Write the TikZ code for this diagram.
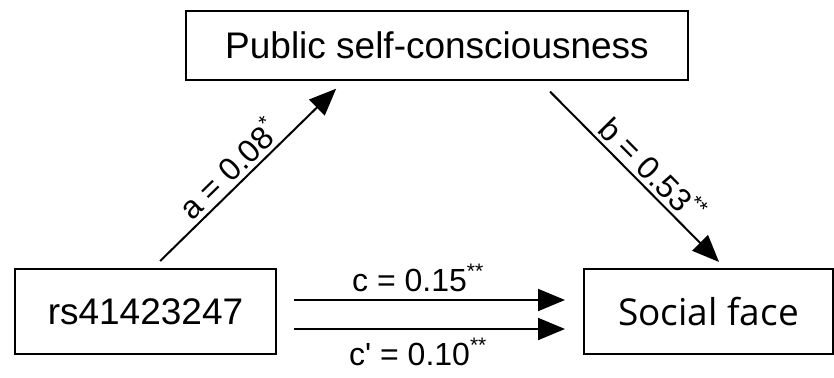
\documentclass[tikz,border=0pt]{standalone}
\usepackage{fontspec}
\setmainfont{Liberation Sans}
\newfontfamily\facefont{Open Sans}
\usetikzlibrary{arrows.meta}

\newcommand{\sig}[1]{\raisebox{13pt}{\fontsize{21}{21}\selectfont #1}}

\tikzset{
    box/.style={draw, line width=2pt, inner sep=0pt, font=\fontsize{37}{40}\selectfont},
    arr/.style={line width=2pt, -{Triangle[length=27pt,width=22pt]}},
    lbl/.style={font=\fontsize{32}{36}\selectfont, inner sep=4pt}
}

\begin{document}
\begin{tikzpicture}[x=1pt, y=-1pt]
    % Fix the page size
    \useasboundingbox (0,0) rectangle (834,377);

    % Draw the three boxes
    \node[box, minimum width=502pt, minimum height=69pt] (psc) at (437,45.5) {Public self-consciousness};
    \node[box, minimum width=261pt, minimum height=85pt] (rs) at (145.5,311.5) {rs41423247};
    \node[box, minimum width=249pt, minimum height=85pt, font=\facefont\fontsize{37}{40}\selectfont] (face) at (708.5,311.5) {Social face};

    % Draw the paths a and b
    \draw[arr, shorten <=10pt, shorten >=11pt] ([xshift=7.5pt]rs.north) -- node[lbl, sloped, above, pos=0.46] {a = 0.08\sig{*}} ([xshift=-93pt]psc.south);
    \draw[arr, shorten <=15pt, shorten >=8.5pt] ([xshift=102.5pt]psc.south) -- node[lbl, sloped, above, pos=0.54] {b = 0.53\sig{**}} ([xshift=16.5pt]face.north);

    % Draw the paths c and c'
    \draw[arr, shorten <=16.7pt, shorten >=18pt] ([yshift=11.5pt]rs.east) -- node[lbl, above, pos=0.46, inner sep=7pt] {c = 0.15\sig{**}} ([yshift=11.5pt]face.west);
    \draw[arr, shorten <=16.7pt, shorten >=18pt] ([yshift=-17.5pt]rs.east) -- node[lbl, below, pos=0.46, inner sep=8pt] {c\textquotesingle{} = 0.10\sig{**}} ([yshift=-17.5pt]face.west);

\end{tikzpicture}
\end{document}
